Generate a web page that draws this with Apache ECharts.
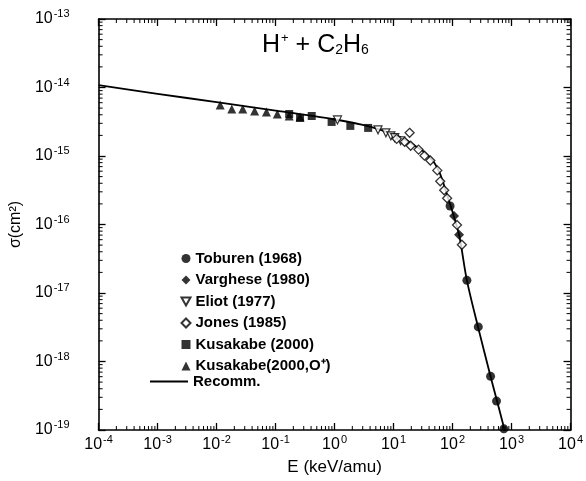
<!DOCTYPE html>
<html><head><meta charset="utf-8">
<script src="https://cdn.jsdelivr.net/npm/echarts@6/dist/echarts.min.js"></script>
<style>html,body{margin:0;padding:0;background:#fff}#c{width:586px;height:481px}</style>
</head><body><div id="c"></div>
<script>
// ---- axis ranges / ticks ----
const xMin = 1e-4, xMax = 1e4;
const yMin = 1e-19, yMax = 1e-13;
const xDecades = [-4, -3, -2, -1, 0, 1, 2, 3];
const yDecades = [-19, -18, -17, -16, -15, -14];
const minorMultipliers = [2, 3, 4, 5, 6, 7, 8, 9];

// ---- data (E in keV/amu, sigma in cm^2) ----
const toburenE = [90.8, 175, 273, 441, 556, 741];
const toburenS = [1.86e-16, 1.53e-17, 3.2e-18, 6.07e-19, 2.64e-19, 1.04e-19];

const vargheseE = [106, 129];
const vargheseS = [1.33e-16, 7.08e-17];

const eliotE = [1.12, 5.45, 7.41, 9.0, 10.5, 13.2];
const eliotS = [3.36e-15, 2.41e-15, 2.18e-15, 1.97e-15, 1.85e-15, 1.67e-15];

const jonesE = [11.3, 15.4, 18.7, 19.5, 26.5, 33.4, 42.0, 55.1, 61.8, 72.1, 80.9, 119, 144];
const jonesS = [1.78e-15, 1.61e-15, 2.18e-15, 1.41e-15, 1.24e-15, 1.01e-15, 8.59e-16, 6.16e-16, 4.27e-16, 3.16e-16, 2.42e-16, 9.86e-17, 5.07e-17];

const kusakabeE = [0.17, 0.26, 0.41, 0.891, 1.85, 3.71];
const kusakabeS = [4.1e-15, 3.6e-15, 3.84e-15, 3.14e-15, 2.75e-15, 2.57e-15];

const kusakabeOE = [0.0115, 0.0181, 0.0278, 0.0441, 0.070, 0.107, 0.17, 0.26];
const kusakabeOS = [5.53e-15, 4.84e-15, 4.84e-15, 4.53e-15, 4.38e-15, 4.10e-15, 3.84e-15, 3.71e-15];

const recommE = [1e-4, 1e-3, 1e-2, 0.1, 1, 3, 5, 10, 15, 20, 30, 40, 50, 60, 70, 80, 100, 130, 175, 270, 440, 750, 820];
const recommS = [1.08e-14, 8.1e-15, 6.1e-15, 4.6e-15, 3.41e-15, 2.84e-15, 2.53e-15, 2.07e-15, 1.78e-15, 1.53e-15, 1.22e-15, 9.8e-16, 7.8e-16, 5.75e-16, 4.0e-16, 2.77e-16, 1.52e-16, 6.84e-17, 1.53e-17, 3.2e-18, 6.1e-19, 1.05e-19, 7e-20];

const names = ['Toburen (1968)', 'Varghese (1980)', 'Eliot (1977)', 'Jones (1985)', 'Kusakabe (2000)', 'Kusakabe(2000,O\u207A)', 'Recomm.'];

// ---- build ----
const zip = (a, b) => a.map((v, i) => [v, b[i]]);
const xMinor = [];
xDecades.forEach(e => minorMultipliers.forEach(m => xMinor.push([m * Math.pow(10, e), yMin])));
const yMinor = [];
yDecades.forEach(e => minorMultipliers.forEach(m => yMinor.push([xMin, m * Math.pow(10, e)])));

const FONT = 'Liberation Sans';
const black = '#000';
const labelRich = {
  b: { fontSize: 16, fontFamily: FONT, color: black },
  s: { fontSize: 11, fontFamily: FONT, color: black, padding: [0, 0, 10, 1] }
};
const expFmt = v => '{b|10}{s|' + Math.round(Math.log10(v)) + '}';

const axisCommon = {
  axisLine: { lineStyle: { color: black, width: 1.6 } },
  axisTick: { inside: true, length: 7, lineStyle: { color: black, width: 1.3 } },
  splitLine: { show: false }
};

const chart = echarts.init(document.getElementById('c'), null, { renderer: 'canvas' });

const scatterBase = { type: 'scatter', z: 4 };
const legendText = { fontFamily: FONT, fontSize: 15, fontWeight: 'bold', color: black, lineHeight: 14 };

chart.setOption({
  animation: false,
  backgroundColor: '#fff',
  title: {
    text: '{a|H}{sup|+}{a| + C}{sub|2}{a|H}{sub|6}',
    left: 257, top: 27,
    textStyle: {
      rich: {
        a: { fontSize: 25, fontFamily: FONT, fontWeight: 'normal', color: black },
        sup: { fontSize: 13, fontFamily: FONT, fontWeight: 'normal', color: black, padding: [0, 0, 14, 1] },
        sub: { fontSize: 14, fontFamily: FONT, fontWeight: 'normal', color: black, padding: [10, 0, 0, 0] }
      }
    }
  },
  grid: { left: 97, right: 11, top: 19, bottom: 47 },
  legend: [
    {
      data: [
        { name: names[0] },
        { name: names[1] },
        { name: names[2], icon: 'path://M0,0L10,0L5,9Z' },
        { name: names[3] },
        { name: names[4] },
        { name: names[5] }
      ],
      orient: 'vertical', left: 180.5, top: 251,
      itemWidth: 9, itemHeight: 9, itemGap: 6.5, padding: 0, selectedMode: false,
      textStyle: legendText
    },
    {
      data: [{ name: 'Recomm.', icon: 'rect' }], orient: 'vertical', left: 150, top: 374,
      itemWidth: 38, itemHeight: 2, padding: 0, selectedMode: false,
      textStyle: legendText
    }
  ],
  xAxis: [
    Object.assign({
      type: 'log', min: xMin, max: xMax, splitNumber: 8, position: 'bottom',
      name: 'E (keV/amu)', nameLocation: 'middle', nameGap: 29,
      nameTextStyle: { fontFamily: FONT, fontSize: 17, color: black },
      axisLabel: { formatter: expFmt, rich: labelRich, margin: 4, color: black }
    }, axisCommon),
    Object.assign({
      type: 'log', min: xMin, max: xMax, splitNumber: 8, position: 'top',
      axisLabel: { show: false }
    }, axisCommon)
  ],
  yAxis: [
    Object.assign({
      type: 'log', min: yMin, max: yMax, splitNumber: 6, position: 'left',
      name: '\u03C3(cm\u00B2)', nameLocation: 'middle', nameGap: 63, nameRotate: 90,
      nameTextStyle: { fontFamily: FONT, fontSize: 16, color: black },
      axisLabel: { formatter: expFmt, rich: labelRich, margin: 29, color: black }
    }, axisCommon),
    Object.assign({
      type: 'log', min: yMin, max: yMax, splitNumber: 6, position: 'right',
      axisLabel: { show: false }
    }, axisCommon)
  ],
  series: [
    Object.assign({}, scatterBase, { name: names[0], data: zip(toburenE, toburenS), symbol: 'circle', symbolSize: 9, itemStyle: { color: black } }),
    Object.assign({}, scatterBase, { name: names[1], data: zip(vargheseE, vargheseS), symbol: 'diamond', symbolSize: 10, itemStyle: { color: black } }),
    Object.assign({}, scatterBase, { name: names[2], data: zip(eliotE, eliotS), symbol: 'triangle', symbolRotate: 180, symbolSize: 8, itemStyle: { color: '#fff', borderColor: black, borderWidth: 1.2 } }),
    Object.assign({}, scatterBase, { name: names[3], data: zip(jonesE, jonesS), symbol: 'diamond', symbolSize: 9, itemStyle: { color: '#fff', borderColor: black, borderWidth: 1.3 } }),
    Object.assign({}, scatterBase, { name: names[4], data: zip(kusakabeE, kusakabeS), symbol: 'rect', symbolSize: 8, itemStyle: { color: black } }),
    Object.assign({}, scatterBase, { name: names[5], data: zip(kusakabeOE, kusakabeOS), symbol: 'triangle', symbolSize: 9, itemStyle: { color: black } }),
    {
      name: names[6], type: 'line', data: zip(recommE, recommS), symbol: 'none', smooth: 0.3,
      lineStyle: { color: black, width: 1.8 }, itemStyle: { color: black }, z: 3, clip: true
    },
    {
      type: 'custom', silent: true, z: 5, clip: false, data: xMinor,
      renderItem: (params, api) => {
        const cs = params.coordSys;
        const x = api.coord([api.value(0), yMin])[0];
        const st = { stroke: black, lineWidth: 1 };
        return { type: 'group', children: [
          { type: 'line', shape: { x1: x, y1: cs.y + cs.height, x2: x, y2: cs.y + cs.height - 4 }, style: st },
          { type: 'line', shape: { x1: x, y1: cs.y, x2: x, y2: cs.y + 4 }, style: st }
        ] };
      }
    },
    {
      type: 'custom', silent: true, z: 5, clip: false, data: yMinor,
      renderItem: (params, api) => {
        const cs = params.coordSys;
        const y = api.coord([xMin, api.value(1)])[1];
        const st = { stroke: black, lineWidth: 1 };
        return { type: 'group', children: [
          { type: 'line', shape: { x1: cs.x, y1: y, x2: cs.x + 4, y2: y }, style: st },
          { type: 'line', shape: { x1: cs.x + cs.width, y1: y, x2: cs.x + cs.width - 4, y2: y }, style: st }
        ] };
      }
    }
  ]
});
</script>
</body></html>
